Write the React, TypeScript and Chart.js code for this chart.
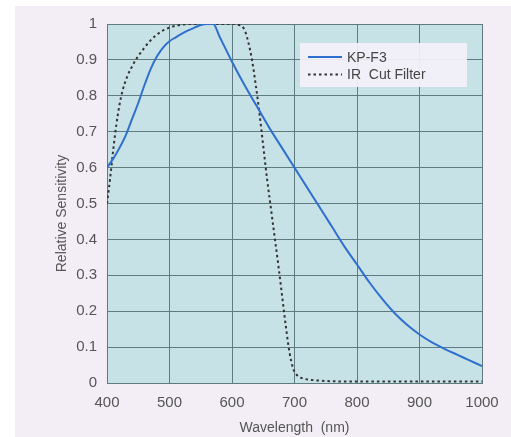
import React, { useEffect, useRef } from "react";
import { Chart, registerables } from "chart.js";

Chart.register(...registerables);

const kpWavelengths = [400, 410, 420, 430, 440, 450, 460, 470, 480, 490, 500, 510, 520, 530, 540, 550, 560, 570, 580, 590, 600, 620, 640, 660, 680, 700, 720, 740, 760, 780, 800, 820, 840, 860, 880, 900, 920, 940, 960, 980, 1000];
const kpValues = [0.6, 0.625, 0.655, 0.69, 0.735, 0.78, 0.83, 0.875, 0.91, 0.935, 0.952, 0.963, 0.973, 0.982, 0.99, 0.997, 1.0, 1.0, 0.965, 0.93, 0.895, 0.83, 0.77, 0.71, 0.655, 0.6, 0.545, 0.49, 0.435, 0.38, 0.33, 0.28, 0.235, 0.195, 0.162, 0.135, 0.113, 0.095, 0.079, 0.063, 0.047];

const irWavelengths = [400, 405, 410, 415, 420, 425, 432, 442, 453, 469, 485, 500, 520, 540, 560, 600, 610, 618, 622, 626, 632, 638, 644, 650, 656, 662, 668, 674, 680, 686, 692, 698, 705, 715, 730, 760, 800, 900, 1000];
const irValues = [0.5, 0.57, 0.65, 0.72, 0.775, 0.815, 0.852, 0.888, 0.918, 0.953, 0.977, 0.99, 0.998, 1.0, 1.0, 1.0, 0.998, 0.99, 0.975, 0.95, 0.9, 0.83, 0.75, 0.66, 0.57, 0.49, 0.41, 0.33, 0.245, 0.16, 0.085, 0.04, 0.02, 0.012, 0.008, 0.005, 0.004, 0.004, 0.004];

const seriesLabels = ["KP-F3", "IR  Cut Filter"];
const xTitle = "Wavelength  (nm)";
const yTitle = "Relative Sensitivity";

const FONT = "'Liberation Sans', Arial, sans-serif";

export default function App() {
  const ref = useRef<HTMLCanvasElement | null>(null);

  useEffect(() => {
    const canvas = ref.current;
    if (!canvas) return;

    const bgPlugin = {
      id: "bgPlugin",
      beforeDraw(chart: any) {
        const ctx = chart.ctx;
        const { left, top, right, bottom } = chart.chartArea;
        ctx.save();
        ctx.fillStyle = "#ffffff";
        ctx.fillRect(0, 0, chart.width, chart.height);
        ctx.fillStyle = "#f3eef6";
        ctx.fillRect(15, 6, chart.width - 15, chart.height - 6);
        ctx.fillStyle = "#c6e2e6";
        ctx.fillRect(left, top, right - left, bottom - top);
        ctx.restore();
      },
      afterDatasetsDraw(chart: any) {
        const ctx = chart.ctx;
        const { left, top, bottom } = chart.chartArea;
        const bx = left + 193;
        const by = top + 19;
        ctx.save();
        ctx.fillStyle = "rgba(244,240,247,0.93)";
        ctx.fillRect(bx, by, 167, 44);
        chart.data.datasets.forEach((ds: any, i: number) => {
          const y = by + 14 + i * 17.5;
          ctx.strokeStyle = ds.borderColor;
          ctx.lineWidth = 2;
          ctx.setLineDash(ds.borderDash || []);
          ctx.beginPath();
          ctx.moveTo(bx + 8, y);
          ctx.lineTo(bx + 42, y);
          ctx.stroke();
          ctx.setLineDash([]);
          ctx.fillStyle = "#454545";
          ctx.font = `14px ${FONT}`;
          ctx.textBaseline = "middle";
          ctx.textAlign = "left";
          ctx.fillText(ds.label, bx + 47, y + 1);
        });
        ctx.translate(62, (top + bottom) / 2 + 10);
        ctx.rotate(-Math.PI / 2);
        ctx.fillStyle = "#555555";
        ctx.font = `14px ${FONT}`;
        ctx.textAlign = "center";
        ctx.textBaseline = "middle";
        ctx.fillText(yTitle, 0, 0);
        ctx.restore();
      },
    };

    const gridColor = "#5e7b80";

    const chart = new Chart(canvas, {
      type: "line",
      data: {
        datasets: [
          {
            label: seriesLabels[0],
            data: kpWavelengths.map((x, i) => ({ x, y: kpValues[i] })),
            borderColor: "#2f6fce",
            borderWidth: 2,
            pointRadius: 0,
            cubicInterpolationMode: "monotone",
            fill: false,
          },
          {
            label: seriesLabels[1],
            data: irWavelengths.map((x, i) => ({ x, y: irValues[i] })),
            borderColor: "#333333",
            borderWidth: 2,
            borderDash: [2.5, 3],
            pointRadius: 0,
            cubicInterpolationMode: "monotone",
            fill: false,
          },
        ],
      },
      options: {
        responsive: false,
        animation: false,
        layout: { padding: { left: 0, right: 29, top: 24, bottom: 0 } },
        plugins: {
          legend: { display: false },
          tooltip: { enabled: false },
        },
        scales: {
          x: {
            type: "linear",
            min: 400,
            max: 1000,
            ticks: {
              stepSize: 100,
              padding: 11,
              color: "#555555",
              font: { family: FONT, size: 15 },
              callback: (v: any) => String(v),
            },
            grid: { color: gridColor, lineWidth: 1, drawTicks: false },
            border: { color: gridColor, width: 1 },
            title: {
              display: true,
              text: xTitle,
              color: "#555555",
              font: { family: FONT, size: 14 },
              padding: { top: 0, bottom: 0 },
            },
            afterFit(scale: any) {
              scale.height = 54;
            },
          },
          y: {
            min: 0,
            max: 1,
            ticks: {
              stepSize: 0.1,
              padding: 10,
              color: "#555555",
              font: { family: FONT, size: 15 },
              callback: (v: any) => String(Math.round(Number(v) * 10) / 10),
            },
            grid: { color: gridColor, lineWidth: 1, drawTicks: false },
            border: { color: gridColor, width: 1 },
            afterFit(scale: any) {
              scale.width = 107;
            },
          },
        },
      },
      plugins: [bgPlugin],
    } as any);

    return () => chart.destroy();
  }, []);

  return (
    <div style={{ position: "fixed", left: 0, top: 0, width: 511, height: 437 }}>
      <canvas ref={ref} width={511} height={437} />
    </div>
  );
}
